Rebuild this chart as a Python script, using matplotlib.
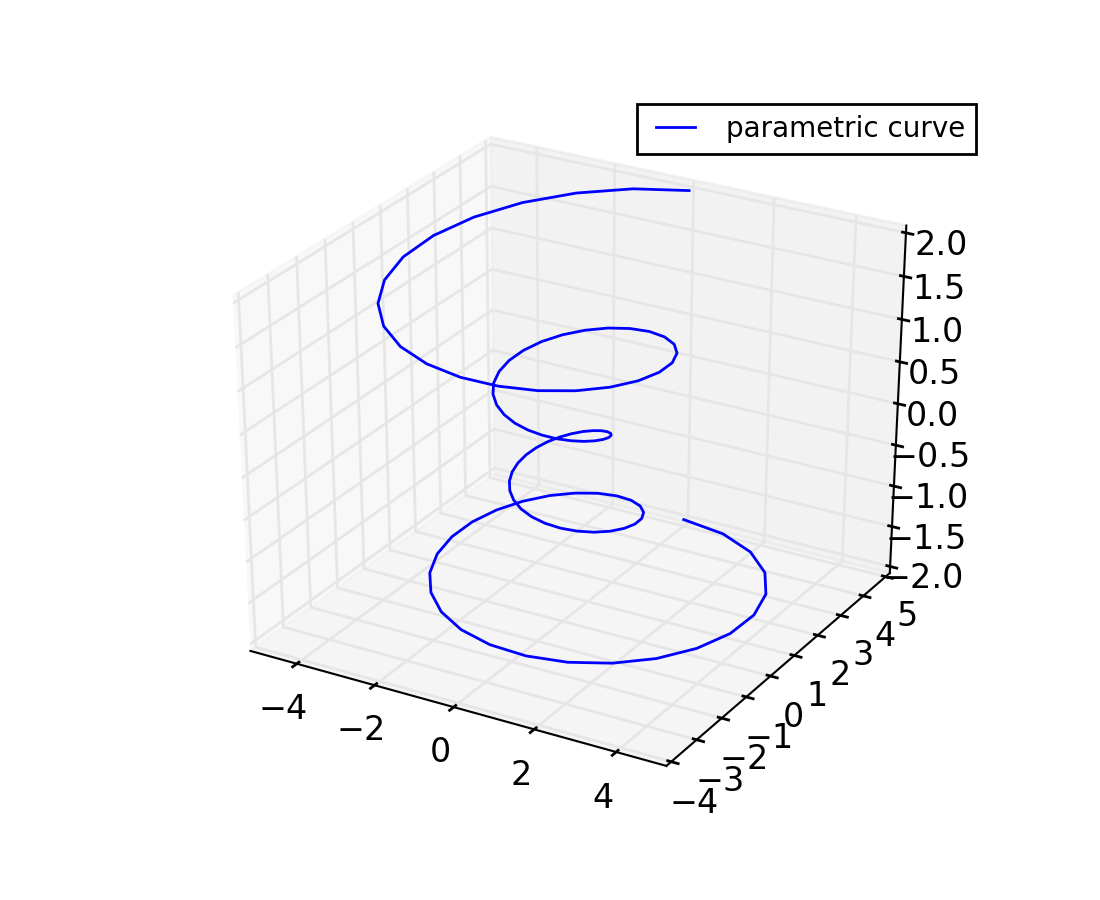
# plot.py - parametric curve in 3D, old matplotlib look
import matplotlib
matplotlib.use("Agg")
import matplotlib.pyplot as plt
from mpl_toolkits.mplot3d import Axes3D  # noqa: F401

x = [0.000, 1.216, 2.277, 3.126, 3.721, 4.042, 4.084, 3.865, 3.416, 2.780,
     2.012, 1.170, 0.313, -0.502, -1.226, -1.819, -2.254, -2.513, -2.593, -2.503,
     -2.261, -1.895, -1.436, -0.923, -0.390, 0.126, 0.593, 0.987, 1.289, 1.486,
     1.575, 1.559, 1.446, 1.251, 0.992, 0.690, 0.365, 0.040, -0.268, -0.541,
     -0.765, -0.931, -1.032, -1.066, -1.033, -0.940, -0.791, -0.599, -0.373, -0.127,
     0.127, 0.373, 0.599, 0.791, 0.940, 1.033, 1.066, 1.032, 0.931, 0.765,
     0.541, 0.268, -0.040, -0.365, -0.690, -0.992, -1.251, -1.446, -1.559, -1.575,
     -1.486, -1.289, -0.987, -0.593, -0.126, 0.390, 0.923, 1.436, 1.895, 2.261,
     2.503, 2.593, 2.513, 2.254, 1.819, 1.226, 0.502, -0.313, -1.170, -2.012,
     -2.780, -3.416, -3.865, -4.084, -4.042, -3.721, -3.126, -2.277, -1.216, 0.000]

y = [5.000, 4.685, 4.092, 3.279, 2.309, 1.257, 0.195, -0.809, -1.692, -2.408,
     -2.922, -3.214, -3.281, -3.135, -2.801, -2.313, -1.715, -1.052, -0.373, 0.279,
     0.864, 1.349, 1.712, 1.938, 2.024, 1.976, 1.807, 1.537, 1.190, 0.797,
     0.382, -0.025, -0.400, -0.722, -0.976, -1.152, -1.245, -1.254, -1.186, -1.049,
     -0.855, -0.619, -0.357, -0.085, 0.182, 0.429, 0.644, 0.813, 0.932, 0.992,
     0.992, 0.932, 0.813, 0.644, 0.429, 0.182, -0.085, -0.357, -0.619, -0.855,
     -1.049, -1.186, -1.254, -1.245, -1.152, -0.976, -0.722, -0.400, -0.025, 0.382,
     0.797, 1.190, 1.537, 1.807, 1.976, 2.024, 1.938, 1.712, 1.349, 0.864,
     0.279, -0.373, -1.052, -1.715, -2.313, -2.801, -3.135, -3.281, -3.214, -2.922,
     -2.408, -1.692, -0.809, 0.195, 1.257, 2.309, 3.279, 4.092, 4.685, 5.000]

z = [-2.000, -1.960, -1.919, -1.879, -1.838, -1.798, -1.758, -1.717, -1.677, -1.636,
     -1.596, -1.556, -1.515, -1.475, -1.434, -1.394, -1.354, -1.313, -1.273, -1.232,
     -1.192, -1.152, -1.111, -1.071, -1.030, -0.990, -0.949, -0.909, -0.869, -0.828,
     -0.788, -0.747, -0.707, -0.667, -0.626, -0.586, -0.545, -0.505, -0.465, -0.424,
     -0.384, -0.343, -0.303, -0.263, -0.222, -0.182, -0.141, -0.101, -0.061, -0.020,
     0.020, 0.061, 0.101, 0.141, 0.182, 0.222, 0.263, 0.303, 0.343, 0.384,
     0.424, 0.465, 0.505, 0.545, 0.586, 0.626, 0.667, 0.707, 0.747, 0.788,
     0.828, 0.869, 0.909, 0.949, 0.990, 1.030, 1.071, 1.111, 1.152, 1.192,
     1.232, 1.273, 1.313, 1.354, 1.394, 1.434, 1.475, 1.515, 1.556, 1.596,
     1.636, 1.677, 1.717, 1.758, 1.798, 1.838, 1.879, 1.919, 1.960, 2.000]

xticks = [-4, -2, 0, 2, 4]
yticks = [-4, -3, -2, -1, 0, 1, 2, 3, 4, 5]
zticks = [-2.0, -1.5, -1.0, -0.5, 0.0, 0.5, 1.0, 1.5, 2.0]

plt.style.use("classic")

fig = plt.figure(figsize=(5.5, 4.5), dpi=200)
ax = fig.add_subplot(111, projection="3d")

# old mplot3d stretched the cube to the whole axes rectangle
ax.apply_aspect = lambda position=None: None
ax.set_box_aspect((1, 1, 1), zoom=0.909 * 25 / 24)

ax.plot(x, y, z, label="parametric curve")
ax.set_xlim(-5, 5, view_margin=1 / 48)
ax.set_ylim(-4, 5, view_margin=1 / 48)
ax.set_zlim(-2, 2, view_margin=1 / 48)
ax.set_xticks(xticks)
ax.set_yticks(yticks)
ax.set_zticks(zticks)
ax.tick_params(pad=0)
ax.legend(fontsize=10)

fig.savefig("out.png", dpi=200)
